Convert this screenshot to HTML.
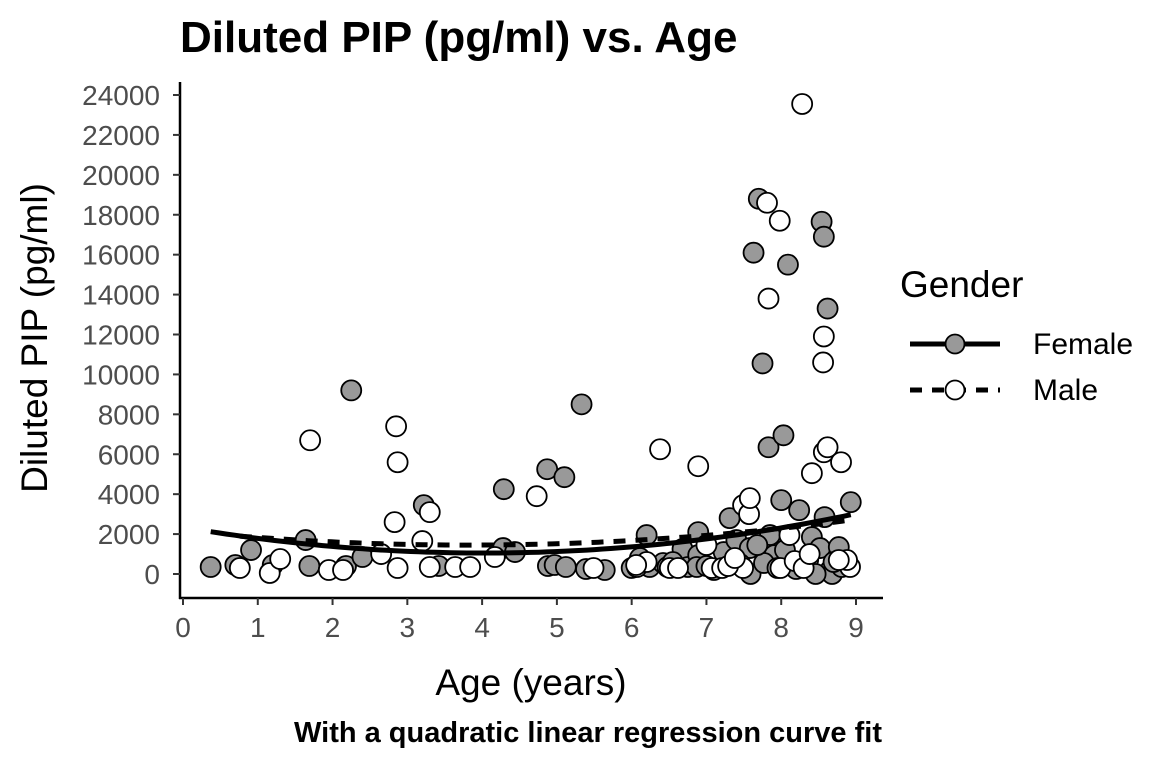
<!DOCTYPE html>
<html><head><meta charset="utf-8"><style>
body{margin:0;background:#fff;width:1152px;height:768px;overflow:hidden}
svg text{font-family:"Liberation Sans",sans-serif}
</style></head><body>
<svg id="c" width="1152" height="768">
<text x="180" y="52" font-size="44" font-weight="bold">Diluted PIP (pg/ml) vs. Age</text>
<text transform="translate(47,338) rotate(-90)" text-anchor="middle" font-size="37">Diluted PIP (pg/ml)</text>
<text x="531" y="695" text-anchor="middle" font-size="37">Age (years)</text>
<text x="588" y="742" text-anchor="middle" font-size="29" font-weight="bold">With a quadratic linear regression curve fit</text>
<g>
<text x="900" y="297" font-size="37">Gender</text>
<g>
<line x1="910" y1="344" x2="1000" y2="344" stroke="#000" stroke-width="5"/>
<circle cx="955" cy="344" r="9.5" fill="#999" stroke="#000" stroke-width="1.8"/>
<text x="1033" y="354" font-size="30">Female</text></g>
<g>
<line x1="910" y1="390" x2="1000" y2="390" stroke="#000" stroke-width="5" stroke-dasharray="12,10"/>
<circle cx="955" cy="390" r="9.5" fill="#fff" stroke="#000" stroke-width="1.8"/>
<text x="1033" y="400" font-size="30">Male</text></g>
</g>
</svg>
<script>
const yTicks=[0,2000,4000,6000,8000,10000,12000,14000,16000,18000,20000,22000,24000];
const xTicks=[0,1,2,3,4,5,6,7,8,9];
const femaleAge=[0.37,0.7,0.91,1.2,1.64,1.69,2.18,2.25,2.4,3.22,3.42,4.29,4.28,4.44,4.87,4.88,4.97,5.1,5.12,5.33,5.39,5.64,6.11,6.2,6.24,6.42,6.48,6.68,6.75,6.89,6.89,6.87,7.1,7.23,7.31,7.4,7.58,7.59,7.63,7.7,7.75,7.83,7.91,8.0,8.03,8.09,8.13,8.24,8.29,8.41,8.52,8.54,8.57,8.58,8.62,8.66,8.68,8.77,8.81,8.93,7.85,7.77,7.68,8.05,8.36,8.46,6.0,6.55,7.0,7.45,7.95,8.2,8.7];
const femalePIP=[350,450,1200,450,1700,400,400,9200,850,3450,400,4250,1300,1100,5250,400,450,4850,350,8500,250,200,800,1950,350,550,350,1250,350,2100,950,350,200,1100,2800,1700,1300,0,16100,18800,10550,6350,950,3700,6950,15500,450,3200,350,1850,1300,17650,16900,2850,13300,200,0,1350,350,3600,1950,550,1450,1200,700,0,300,600,400,500,300,250,600];
const maleAge=[0.76,1.16,1.3,1.7,1.95,2.14,2.65,2.83,2.85,2.87,2.87,3.2,3.3,3.3,3.64,3.84,4.17,4.73,5.49,6.07,6.2,6.38,6.51,6.62,6.89,7.0,7.07,7.21,7.49,7.49,7.57,7.58,7.81,7.83,7.98,7.99,8.11,8.18,8.28,8.3,8.41,8.57,8.56,8.57,8.62,8.8,8.92,8.88,6.06,7.29,7.38,8.38,8.77];
const malePIP=[300,50,750,6700,200,200,1000,2600,7400,5600,300,1650,3100,350,350,350,850,3900,300,350,600,6250,300,300,5400,1450,300,300,300,3450,3000,3800,18600,13800,17700,300,1950,650,23550,300,5050,11900,10600,6100,6350,5600,350,700,450,400,800,1000,700];
const femaleFit=[80,4.03,1050];
const maleFit=[48,3.82,1450];
const fitRangeF=[0.37,8.93], fitRangeM=[0.76,8.92];
const svg=document.getElementById('c'),NS='http://www.w3.org/2000/svg';
const X=v=>183+v*(856-183)/9, Y=v=>574-v*(574-95)/24000;
function mk(t,a,p){const e=document.createElementNS(NS,t);for(const k in a)e.setAttribute(k,a[k]);(p||svg).appendChild(e);return e;}
const ax=mk('g',{});


mk('line',{x1:180,y1:82,x2:180,y2:599,stroke:'#000','stroke-width':2.5},ax);
mk('line',{x1:179,y1:598,x2:883,y2:598,stroke:'#000','stroke-width':2.5},ax);
yTicks.forEach(v=>{mk('line',{x1:173,x2:180,y1:Y(v),y2:Y(v),stroke:'#333','stroke-width':2},ax);
const t=mk('text',{x:160,y:Y(v)+10,'text-anchor':'end','font-size':28,fill:'#4d4d4d'},ax);t.textContent=v;

});
xTicks.forEach(v=>{mk('line',{x1:X(v),x2:X(v),y1:598,y2:605,stroke:'#333','stroke-width':2},ax);
const t=mk('text',{x:X(v),y:637,'text-anchor':'middle','font-size':28,fill:'#4d4d4d'},ax);t.textContent=v;

});
const pts=mk('g',{});


femaleAge.forEach((a,i)=>{const c=mk('circle',{cx:X(a),cy:Y(femalePIP[i]),r:10,fill:'#999',stroke:'#000','stroke-width':1.8},pts);

});
maleAge.forEach((a,i)=>{const c=mk('circle',{cx:X(a),cy:Y(malePIP[i]),r:10,fill:'#fff',stroke:'#000','stroke-width':1.8},pts);

});
function curve(f,r,dash,name){let d='';for(let i=0;i<=80;i++){const x=r[0]+(r[1]-r[0])*i/80,y=f[0]*(x-f[1])**2+f[2];d+=(i?'L':'M')+X(x).toFixed(1)+','+Y(y).toFixed(1);}
const p=mk('path',{d:d,fill:'none',stroke:'#000','stroke-width':5,'stroke-dasharray':dash});

}
curve(maleFit,fitRangeM,'12,10','male-fit-curve');
curve(femaleFit,fitRangeF,'none','female-fit-curve');
</script>
</body></html>
